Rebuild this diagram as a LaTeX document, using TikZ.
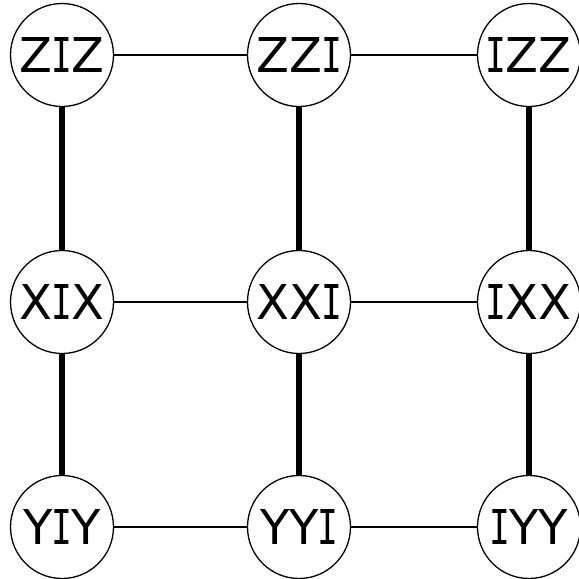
\documentclass[tikz,border=0pt]{standalone}
\usepackage{fontspec}
\newfontfamily\labfont{DejaVu Sans}
\newfontfamily\ifont[FakeStretch=0.72]{DejaVu Sans Mono}
\newcommand{\qI}{\kern-1pt{\ifont I}\kern-1pt}
\begin{document}
\begin{tikzpicture}[x=1pt,y=-1pt,
  qnode/.style={circle,draw,line width=1.3pt,fill=white,minimum size=103pt,inner sep=0pt,font=\labfont\fontsize{48}{48}\selectfont},
  thinedge/.style={line width=1.2pt},
  thickedge/.style={line width=6.5pt}]
\useasboundingbox (0,0) rectangle (579,579);
\node[qnode] (ziz) at (62,55) {Z\qI Z};
\node[qnode] (zzi) at (299,55) {ZZ\qI};
\node[qnode] (izz) at (529,55) {\qI ZZ};
\node[qnode] (xix) at (62,302) {X\qI X};
\node[qnode] (xxi) at (299,302) {XX\qI};
\node[qnode] (ixx) at (529,302) {\qI XX};
\node[qnode] (yiy) at (62,527) {Y\qI Y};
\node[qnode] (yyi) at (299,527) {YY\qI};
\node[qnode] (iyy) at (529,527) {\qI YY};
\draw[thinedge] (ziz) -- (zzi);
\draw[thinedge] (zzi) -- (izz);
\draw[thinedge] (xix) -- (xxi);
\draw[thinedge] (xxi) -- (ixx);
\draw[thinedge] (yiy) -- (yyi);
\draw[thinedge] (yyi) -- (iyy);
\draw[thickedge] (ziz) -- (xix);
\draw[thickedge] (xix) -- (yiy);
\draw[thickedge] (zzi) -- (xxi);
\draw[thickedge] (xxi) -- (yyi);
\draw[thickedge] (izz) -- (ixx);
\draw[thickedge] (ixx) -- (iyy);
\end{tikzpicture}
\end{document}
